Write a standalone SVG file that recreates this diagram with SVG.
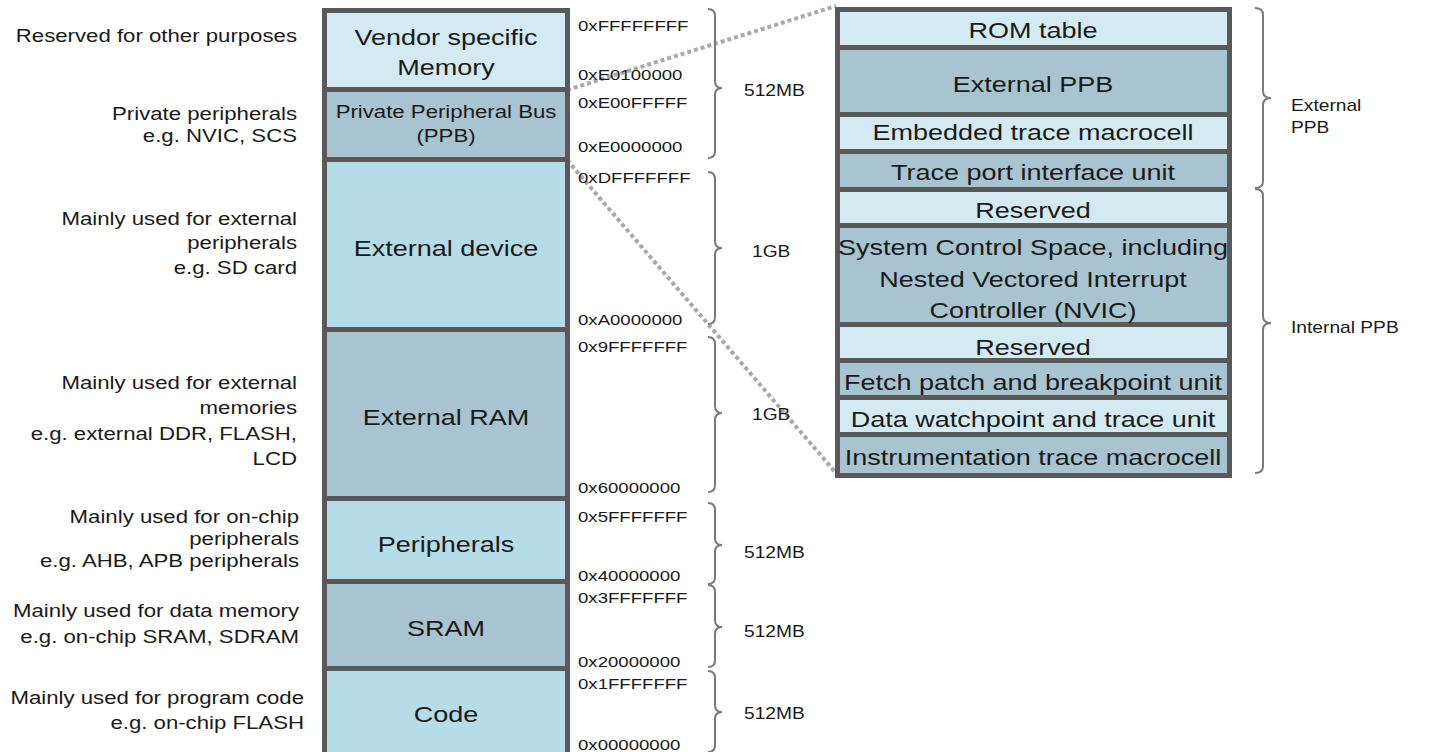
<svg xmlns="http://www.w3.org/2000/svg" width="1434" height="752" viewBox="0 0 1434 752">
<style>
text{font-family:"Liberation Sans",Arial,sans-serif;fill:#1a1a1a}
.frame{fill:#595959}
.lt{fill:#b6dce8}
.vl{fill:#d4eaf2}
.dk{fill:#a7c4d0}
.big{font-size:22.5px;text-anchor:middle}
.mid{font-size:18.5px;text-anchor:middle}
.desc{font-size:18.5px;text-anchor:end}
.hex{font-size:15.5px}
.sz{font-size:16px}
.brace{fill:none;stroke:#7a7a7a;stroke-width:2}
.dots{stroke:#a9a9a9;stroke-width:4;stroke-dasharray:4 3;fill:none}
</style>
<rect width="1434" height="752" fill="#ffffff"/>

<g id="connectors">
<line class="dots" x1="567" y1="90" x2="836" y2="6"/>
<line class="dots" x1="567" y1="160" x2="836" y2="473"/>
</g>

<g id="descriptions">
<text class="desc" transform="translate(297 42) scale(1.2 1)">Reserved for other purposes</text>
<text class="desc" transform="translate(297 120) scale(1.2 1)"><tspan x="0">Private peripherals</tspan><tspan x="0" dy="22">e.g. NVIC, SCS</tspan></text>
<text class="desc" transform="translate(297 225) scale(1.2 1)"><tspan x="0">Mainly used for external</tspan><tspan x="0" dy="24">peripherals</tspan><tspan x="0" dy="25">e.g. SD card</tspan></text>
<text class="desc" transform="translate(297 389) scale(1.2 1)"><tspan x="0">Mainly used for external</tspan><tspan x="0" dy="25">memories</tspan><tspan x="0" dy="26">e.g. external DDR, FLASH,</tspan><tspan x="0" dy="25">LCD</tspan></text>
<text class="desc" transform="translate(299 523) scale(1.2 1)"><tspan x="0">Mainly used for on-chip</tspan><tspan x="0" dy="22">peripherals</tspan><tspan x="0" dy="22">e.g. AHB, APB peripherals</tspan></text>
<text class="desc" transform="translate(299 617) scale(1.2 1)"><tspan x="0">Mainly used for data memory</tspan><tspan x="0" dy="26">e.g. on-chip SRAM, SDRAM</tspan></text>
<text class="desc" transform="translate(304 704) scale(1.2 1)"><tspan x="0">Mainly used for program code</tspan><tspan x="0" dy="25">e.g. on-chip FLASH</tspan></text>
</g>

<g id="memory-map">
<rect class="frame" x="322" y="8" width="248" height="750"/>
<g id="vendor">
<rect class="vl" x="327" y="13" width="238" height="74"/>
<text class="big" transform="translate(446 45) scale(1.2 1)"><tspan x="0">Vendor specific</tspan><tspan x="0" dy="30">Memory</tspan></text>
</g>
<g id="ppb">
<rect class="dk" x="327" y="92" width="238" height="65"/>
<text class="mid" transform="translate(446 118) scale(1.2 1)"><tspan x="0">Private Peripheral Bus</tspan><tspan x="0" dy="24">(PPB)</tspan></text>
</g>
<g id="ext-device">
<rect class="lt" x="327" y="162" width="238" height="165"/>
<text class="big" transform="translate(446 256) scale(1.2 1)">External device</text>
</g>
<g id="ext-ram">
<rect class="dk" x="327" y="332" width="238" height="164"/>
<text class="big" transform="translate(446 425) scale(1.2 1)">External RAM</text>
</g>
<g id="peripherals">
<rect class="lt" x="327" y="501" width="238" height="78"/>
<text class="big" transform="translate(446 552) scale(1.2 1)">Peripherals</text>
</g>
<g id="sram">
<rect class="dk" x="327" y="584" width="238" height="82"/>
<text class="big" transform="translate(446 636) scale(1.2 1)">SRAM</text>
</g>
<g id="code">
<rect class="lt" x="327" y="671" width="238" height="90"/>
<text class="big" transform="translate(446 722) scale(1.2 1)">Code</text>
</g>
</g>

<g id="addresses">
<text class="hex" transform="translate(578 31) scale(1.2 1)">0xFFFFFFFF</text>
<text class="hex" transform="translate(578 80) scale(1.2 1)">0xE0100000</text>
<text class="hex" transform="translate(578 108) scale(1.2 1)">0xE00FFFFF</text>
<text class="hex" transform="translate(578 152) scale(1.2 1)">0xE0000000</text>
<text class="hex" transform="translate(578 183) scale(1.2 1)">0xDFFFFFFF</text>
<text class="hex" transform="translate(578 325) scale(1.2 1)">0xA0000000</text>
<text class="hex" transform="translate(578 352) scale(1.2 1)">0x9FFFFFFF</text>
<text class="hex" transform="translate(578 493) scale(1.2 1)">0x60000000</text>
<text class="hex" transform="translate(578 522) scale(1.2 1)">0x5FFFFFFF</text>
<text class="hex" transform="translate(578 581) scale(1.2 1)">0x40000000</text>
<text class="hex" transform="translate(578 603) scale(1.2 1)">0x3FFFFFFF</text>
<text class="hex" transform="translate(578 667) scale(1.2 1)">0x20000000</text>
<text class="hex" transform="translate(578 689) scale(1.2 1)">0x1FFFFFFF</text>
<text class="hex" transform="translate(578 750) scale(1.2 1)">0x00000000</text>
</g>

<g id="sizes">
<path class="brace" d="M708 9 Q715 9 715 16 L715 81 Q715 88 722 88 Q715 88 715 95 L715 151 Q715 158 708 158"/>
<path class="brace" d="M708 172 Q715 172 715 179 L715 241 Q715 248 722 248 Q715 248 715 255 L715 317 Q715 324 708 324"/>
<path class="brace" d="M708 337 Q715 337 715 344 L715 406 Q715 413 722 413 Q715 413 715 420 L715 485 Q715 492 708 492"/>
<path class="brace" d="M708 503 Q715 503 715 510 L715 538 Q715 545 722 545 Q715 545 715 552 L715 577 Q715 584 708 584"/>
<path class="brace" d="M708 585 Q715 585 715 592 L715 620 Q715 627 722 627 Q715 627 715 634 L715 660 Q715 667 708 667"/>
<path class="brace" d="M708 671 Q715 671 715 678 L715 705 Q715 712 722 712 Q715 712 715 719 L715 745 Q715 752 708 752"/>
<text class="sz" transform="translate(744 96) scale(1.2 1)">512MB</text>
<text class="sz" transform="translate(752 257) scale(1.2 1)">1GB</text>
<text class="sz" transform="translate(752 420) scale(1.2 1)">1GB</text>
<text class="sz" transform="translate(744 558) scale(1.2 1)">512MB</text>
<text class="sz" transform="translate(744 637) scale(1.2 1)">512MB</text>
<text class="sz" transform="translate(744 719) scale(1.2 1)">512MB</text>
</g>

<g id="ppb-map">
<rect class="frame" x="835" y="7" width="397" height="471"/>
<g id="rom"><rect class="vl" x="840" y="12" width="387" height="33"/><text class="big" transform="translate(1033 38) scale(1.2 1)">ROM table</text></g>
<g id="ext-ppb"><rect class="dk" x="840" y="50" width="387" height="62"/><text class="big" transform="translate(1033 92) scale(1.2 1)">External PPB</text></g>
<g id="etm"><rect class="vl" x="840" y="117" width="387" height="32"/><text class="big" transform="translate(1033 140) scale(1.2 1)">Embedded trace macrocell</text></g>
<g id="tpiu"><rect class="dk" x="840" y="154" width="387" height="33"/><text class="big" transform="translate(1033 180) scale(1.2 1)">Trace port interface unit</text></g>
<g id="reserved1"><rect class="vl" x="840" y="192" width="387" height="31"/><text class="big" transform="translate(1033 218) scale(1.2 1)">Reserved</text></g>
<g id="scs"><rect class="dk" x="840" y="228" width="387" height="94"/><text class="big" transform="translate(1033 255) scale(1.2 1)"><tspan x="0">System Control Space, including</tspan><tspan x="0" dy="32">Nested Vectored Interrupt</tspan><tspan x="0" dy="31">Controller (NVIC)</tspan></text></g>
<g id="reserved2"><rect class="vl" x="840" y="327" width="387" height="31"/><text class="big" transform="translate(1033 355) scale(1.2 1)">Reserved</text></g>
<g id="fpb"><rect class="dk" x="840" y="363" width="387" height="32"/><text class="big" transform="translate(1033 390) scale(1.2 1)">Fetch patch and breakpoint unit</text></g>
<g id="dwt"><rect class="vl" x="840" y="400" width="387" height="32"/><text class="big" transform="translate(1033 427) scale(1.2 1)">Data watchpoint and trace unit</text></g>
<g id="itm"><rect class="dk" x="840" y="437" width="387" height="36"/><text class="big" transform="translate(1033 465) scale(1.2 1)">Instrumentation trace macrocell</text></g>
</g>

<g id="ppb-groups">
<path class="brace" d="M1255 8 Q1263 8 1263 15 L1263 91 Q1263 98 1271 98 Q1263 98 1263 105 L1263 181 Q1263 188 1255 188"/>
<path class="brace" d="M1255 189 Q1263 189 1263 196 L1263 316 Q1263 323 1271 323 Q1263 323 1263 330 L1263 466 Q1263 473 1255 473"/>
<text class="sz" transform="translate(1291 111) scale(1.2 1)"><tspan x="0">External</tspan><tspan x="0" dy="22">PPB</tspan></text>
<text class="sz" transform="translate(1291 333) scale(1.2 1)">Internal PPB</text>
</g>
</svg>
